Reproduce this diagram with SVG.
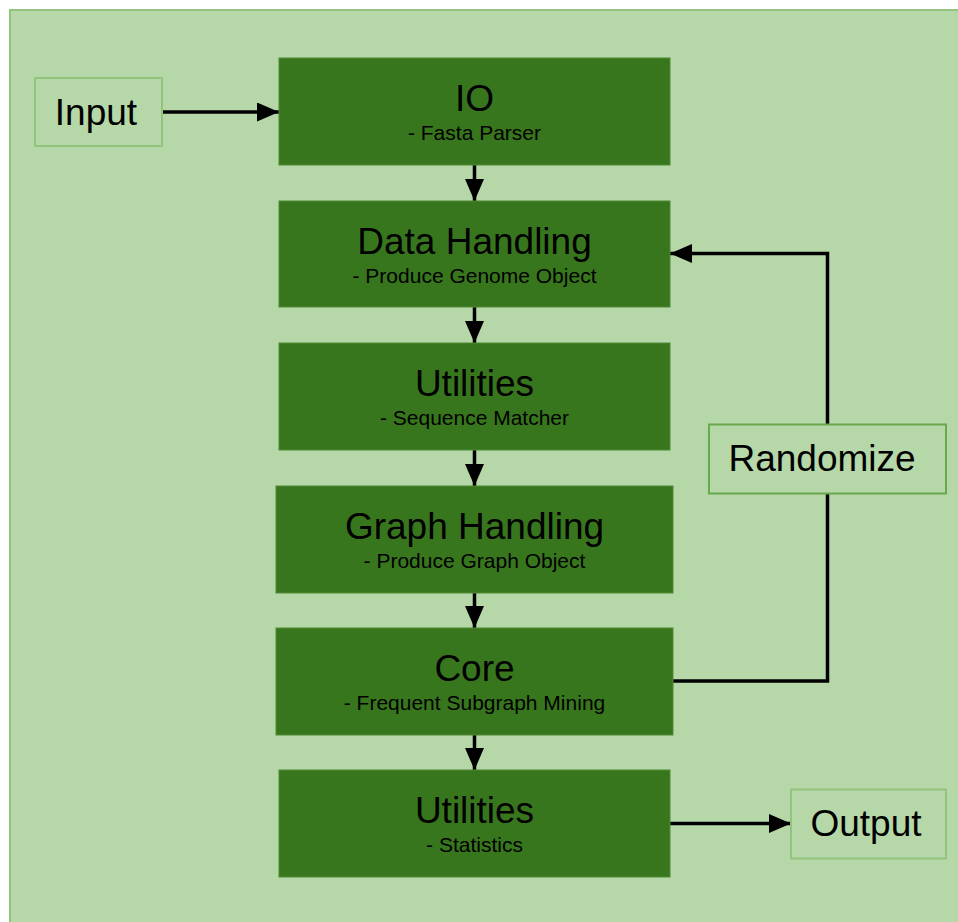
<svg xmlns="http://www.w3.org/2000/svg" width="958" height="922" viewBox="0 0 958 922">
  <style>
    .panel { fill: #b6d7a8; stroke: #93c47d; stroke-width: 2; }
    .stage { fill: #38761d; stroke: #4e8a34; stroke-width: 1; }
    .term { fill: #b6d7a8; stroke: #93c47d; stroke-width: 2; }
    .loop { fill: #b6d7a8; stroke: #6aa84f; stroke-width: 2; }
    .title { font-family: "Liberation Sans", Arial, sans-serif; font-size: 37px; fill: #000; text-anchor: middle; }
    .sub { font-family: "Liberation Sans", Arial, sans-serif; font-size: 21px; fill: #000; text-anchor: middle; }
    .edge { fill: none; stroke: #000; stroke-width: 3.5; }
  </style>
  <defs>
    <marker id="arrow" viewBox="0 0 22 19" refX="22" refY="9.5" markerWidth="22" markerHeight="19" markerUnits="userSpaceOnUse" orient="auto">
      <path d="M0,0 L22,9.5 L0,19 Z" fill="#000"/>
    </marker>
  </defs>

  <rect width="958" height="922" fill="#ffffff"/>
  <rect class="panel" x="10" y="10" width="960" height="930"/>

  <g id="connectors">
    <line class="edge" x1="162" y1="112" x2="279" y2="112" marker-end="url(#arrow)"/>
    <line class="edge" x1="474.5" y1="165" x2="474.5" y2="201" marker-end="url(#arrow)"/>
    <line class="edge" x1="474.5" y1="307" x2="474.5" y2="343" marker-end="url(#arrow)"/>
    <line class="edge" x1="474.5" y1="450" x2="474.5" y2="486" marker-end="url(#arrow)"/>
    <line class="edge" x1="474.5" y1="593" x2="474.5" y2="628" marker-end="url(#arrow)"/>
    <line class="edge" x1="474.5" y1="735" x2="474.5" y2="770" marker-end="url(#arrow)"/>
    <polyline class="edge" points="673,681 827.5,681 827.5,253.5 670,253.5" marker-end="url(#arrow)"/>
    <line class="edge" x1="670" y1="823.5" x2="791" y2="823.5" marker-end="url(#arrow)"/>
  </g>

  <g id="input">
    <rect class="term" x="35" y="78" width="127" height="68"/>
    <text class="title" x="96" y="125">Input</text>
  </g>

  <g id="io">
    <rect class="stage" x="279" y="58" width="391" height="107"/>
    <text class="title" x="474.5" y="111">IO</text>
    <text class="sub" x="474.5" y="140">- Fasta Parser</text>
  </g>

  <g id="data-handling">
    <rect class="stage" x="279" y="201" width="391" height="106"/>
    <text class="title" x="474.5" y="254">Data Handling</text>
    <text class="sub" x="474.5" y="283">- Produce Genome Object</text>
  </g>

  <g id="utilities-matcher">
    <rect class="stage" x="279" y="343" width="391" height="107"/>
    <text class="title" x="474.5" y="396">Utilities</text>
    <text class="sub" x="474.5" y="425">- Sequence Matcher</text>
  </g>

  <g id="graph-handling">
    <rect class="stage" x="276" y="486" width="397" height="107"/>
    <text class="title" x="474.5" y="539">Graph Handling</text>
    <text class="sub" x="474.5" y="568">- Produce Graph Object</text>
  </g>

  <g id="core">
    <rect class="stage" x="276" y="628" width="397" height="107"/>
    <text class="title" x="474.5" y="681">Core</text>
    <text class="sub" x="474.5" y="710">- Frequent Subgraph Mining</text>
  </g>

  <g id="utilities-statistics">
    <rect class="stage" x="279" y="770" width="391" height="107"/>
    <text class="title" x="474.5" y="823">Utilities</text>
    <text class="sub" x="474.5" y="852">- Statistics</text>
  </g>

  <g id="randomize">
    <rect class="loop" x="709" y="424.5" width="237" height="69"/>
    <text class="title" x="822" y="471">Randomize</text>
  </g>

  <g id="output">
    <rect class="term" x="791" y="789.5" width="155" height="69"/>
    <text class="title" x="866" y="836">Output</text>
  </g>
</svg>
